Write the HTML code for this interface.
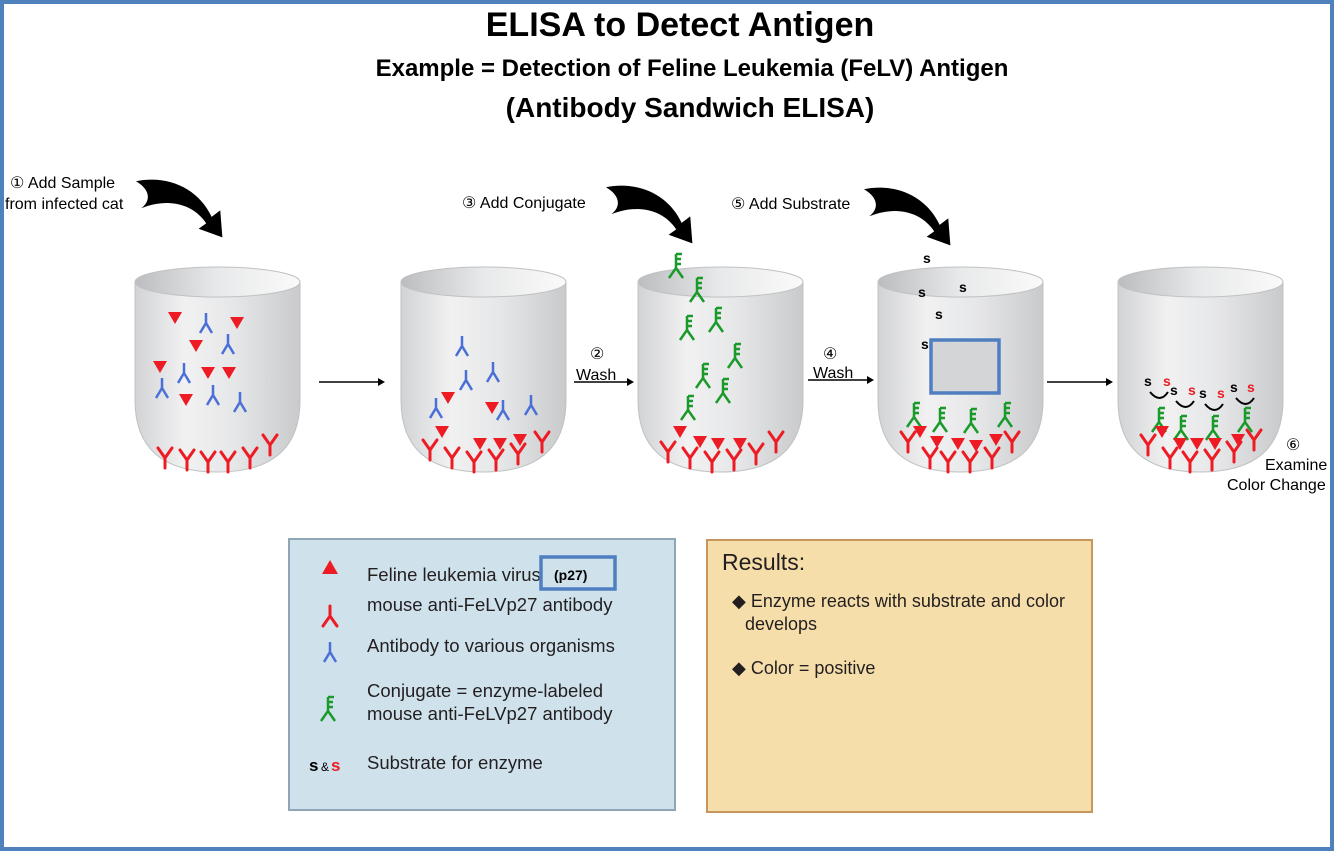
<!DOCTYPE html>
<html><head><meta charset="utf-8"><style>
html,body{margin:0;padding:0;background:#fff}
svg{display:block}
text{font-family:"Liberation Sans",sans-serif}
</style></head><body>
<svg width="1334" height="851" viewBox="0 0 1334 851" xmlns="http://www.w3.org/2000/svg">
<defs>
<linearGradient id="cg" x1="0" x2="1" y1="0" y2="0">
<stop offset="0" stop-color="#d2d3d5"/><stop offset="0.3" stop-color="#f1f1f2"/><stop offset="0.6" stop-color="#e6e7e8"/><stop offset="1" stop-color="#c9cacc"/></linearGradient>
<linearGradient id="ig" x1="0" x2="1" y1="0" y2="0">
<stop offset="0" stop-color="#bcbdc0"/><stop offset="0.5" stop-color="#e8e9ea"/><stop offset="1" stop-color="#fafafa"/></linearGradient>
<g id="cup">
<path d="M0,282 L0,400 Q0,472 82,472 Q165,472 165,400 L165,282 Z" fill="url(#cg)" stroke="#c0c1c3" stroke-width="1"/>
<ellipse cx="82.5" cy="282" rx="82.5" ry="15" fill="url(#ig)" stroke="#c0c1c3"/>
</g>
<g id="ry" stroke="#ed1c24" stroke-width="3" fill="none" stroke-linecap="round"><path d="M0,0 L0,-10 L-7,-20 M0,-10 L7,-20"/></g>
<g id="by" stroke="#4a6fd8" stroke-width="2.5" fill="none"><path d="M0,-20 L0,-10 L-6,0 M0,-10 L6,0"/></g>
<g id="gy" stroke="#1a9a2a" stroke-width="2.5" fill="none"><path d="M0,-24 L0,-10 L-7,0 M0,-10 L7,0 M0,-24 L6,-24 M0,-19 L5,-19 M0,-14 L5,-14"/></g>
<polygon id="tri" points="-7,-6 7,-6 0,6" fill="#ed1c24"/>
<path id="arr" d="M0,3 C30,-3 58,10 70,36 L78,30 L80,55 L58,47 L65,42 C53,24 30,18 5,28 C15,20 12,10 0,3 Z" fill="#000"/>
</defs>
<rect x="2" y="2" width="1330" height="847" fill="#fff" stroke="#4f81bd" stroke-width="4"/>
<text x="680" y="36" text-anchor="middle" font-size="34" font-weight="bold">ELISA to Detect Antigen</text>
<text x="692" y="76" text-anchor="middle" font-size="24" font-weight="bold">Example = Detection of Feline Leukemia (FeLV) Antigen</text>
<text x="690" y="117" text-anchor="middle" font-size="28" font-weight="bold">(Antibody Sandwich ELISA)</text>

<g font-size="16">
<text x="10" y="188">① Add Sample</text><text x="5" y="209">from infected cat</text>
<text x="462" y="208">③ Add Conjugate</text>
<text x="731" y="209">⑤ Add Substrate</text>
<text x="1286" y="450">⑥</text><text x="1265" y="470">Examine</text><text x="1227" y="490">Color Change</text>
<text x="590" y="359">②</text><text x="576" y="380">Wash</text>
<text x="823" y="359">④</text><text x="813" y="378">Wash</text>
</g>
<use href="#arr" transform="translate(136,178) scale(1.08)"/>
<use href="#arr" transform="translate(606,184) scale(1.08)"/>
<use href="#arr" transform="translate(864,186) scale(1.08)"/>
<g stroke="#000" stroke-width="1.5">
<line x1="319" y1="382" x2="380" y2="382"/><line x1="574" y1="382" x2="630" y2="382"/><line x1="808" y1="380" x2="868" y2="380"/><line x1="1047" y1="382" x2="1108" y2="382"/>
</g>
<g fill="#000"><polygon points="385,382 378,378 378,386"/><polygon points="634,382 627,378 627,386"/><polygon points="874,380 867,376 867,384"/><polygon points="1113,382 1106,378 1106,386"/></g>

<use href="#cup" x="135"/><use href="#cup" x="401"/><use href="#cup" x="638"/><use href="#cup" x="878"/><use href="#cup" x="1118"/>

<g>
<use href="#tri" x="175" y="318"/><use href="#tri" x="237" y="323"/><use href="#tri" x="196" y="346"/><use href="#tri" x="160" y="367"/><use href="#tri" x="208" y="373"/><use href="#tri" x="229" y="373"/><use href="#tri" x="186" y="400"/>
<use href="#by" x="206" y="333"/><use href="#by" x="228" y="354"/><use href="#by" x="184" y="383"/><use href="#by" x="162" y="398"/><use href="#by" x="213" y="405"/><use href="#by" x="240" y="412"/>
<use href="#ry" x="165" y="468"/><use href="#ry" x="187" y="470"/><use href="#ry" x="208" y="472"/><use href="#ry" x="228" y="472"/><use href="#ry" x="250" y="468"/><use href="#ry" x="270" y="455"/>
</g>
<g>
<use href="#by" x="462" y="356"/><use href="#by" x="466" y="390"/><use href="#by" x="493" y="382"/><use href="#by" x="436" y="418"/><use href="#by" x="503" y="420"/><use href="#by" x="531" y="415"/>
<use href="#tri" x="448" y="398"/><use href="#tri" x="492" y="408"/><use href="#tri" x="442" y="432"/>
<use href="#tri" x="480" y="444"/><use href="#tri" x="500" y="444"/><use href="#tri" x="520" y="440"/>
<use href="#ry" x="430" y="460"/><use href="#ry" x="452" y="468"/><use href="#ry" x="474" y="472"/><use href="#ry" x="496" y="470"/><use href="#ry" x="518" y="464"/><use href="#ry" x="542" y="452"/>
</g>
<g>
<use href="#gy" x="676" y="278"/><use href="#gy" x="697" y="302"/><use href="#gy" x="687" y="340"/><use href="#gy" x="716" y="332"/><use href="#gy" x="735" y="368"/><use href="#gy" x="703" y="388"/><use href="#gy" x="723" y="403"/><use href="#gy" x="688" y="420"/>
<use href="#tri" x="680" y="432"/><use href="#tri" x="718" y="444"/><use href="#tri" x="740" y="444"/><use href="#tri" x="700" y="442"/>
<use href="#ry" x="668" y="462"/><use href="#ry" x="690" y="468"/><use href="#ry" x="712" y="472"/><use href="#ry" x="734" y="470"/><use href="#ry" x="756" y="464"/><use href="#ry" x="776" y="452"/>
</g>
<g font-size="14" font-weight="bold">
<text x="923" y="263">s</text><text x="918" y="297">s</text><text x="959" y="292">s</text><text x="935" y="319">s</text><text x="921" y="349">s</text>
</g>
<rect x="931" y="340" width="68" height="53" fill="#d4d5d7" stroke="#4f7fc0" stroke-width="3.5"/>
<g>
<use href="#gy" x="914" y="427"/><use href="#gy" x="940" y="432"/><use href="#gy" x="971" y="433"/><use href="#gy" x="1005" y="427"/>
<use href="#tri" x="920" y="432"/><use href="#tri" x="937" y="442"/><use href="#tri" x="958" y="444"/><use href="#tri" x="976" y="446"/><use href="#tri" x="996" y="440"/>
<use href="#ry" x="908" y="452"/><use href="#ry" x="930" y="468"/><use href="#ry" x="948" y="472"/><use href="#ry" x="970" y="472"/><use href="#ry" x="992" y="468"/><use href="#ry" x="1012" y="452"/>
</g>
<g font-size="14" font-weight="bold">
<text x="1144" y="386">s</text><text x="1163" y="386" fill="#ed1c24">s</text>
<text x="1170" y="395">s</text><text x="1188" y="395" fill="#ed1c24">s</text>
<text x="1199" y="398">s</text><text x="1217" y="398" fill="#ed1c24">s</text>
<text x="1230" y="392">s</text><text x="1247" y="392" fill="#ed1c24">s</text>
</g>
<g stroke="#000" stroke-width="2" fill="none">
<path d="M1150,392 Q1160,404 1168,392"/><path d="M1176,401 Q1186,413 1194,401"/><path d="M1205,404 Q1215,416 1223,404"/><path d="M1236,398 Q1246,410 1254,398"/>
</g>
<g>
<use href="#gy" x="1159" y="432"/><use href="#gy" x="1181" y="440"/><use href="#gy" x="1213" y="440"/><use href="#gy" x="1245" y="432"/>
<use href="#tri" x="1162" y="432"/><use href="#tri" x="1180" y="444"/><use href="#tri" x="1197" y="444"/><use href="#tri" x="1215" y="444"/><use href="#tri" x="1238" y="440"/>
<use href="#ry" x="1148" y="455"/><use href="#ry" x="1170" y="468"/><use href="#ry" x="1190" y="472"/><use href="#ry" x="1212" y="470"/><use href="#ry" x="1234" y="462"/><use href="#ry" x="1254" y="450"/>
</g>

<rect x="289" y="539" width="386" height="271" fill="#cfe2ec" stroke="#8fa6b6" stroke-width="2"/>
<polygon points="330,560 338,574 322,574" fill="#ed1c24"/>
<use href="#ry" x="330" y="616" transform="translate(660,1222) scale(-1,-1)"/>
<use href="#by" x="330" y="662"/>
<use href="#gy" x="328" y="721"/>
<g font-size="18.5" fill="#231f20">
<text x="367" y="581">Feline leukemia virus</text>
<text x="367" y="611">mouse anti-FeLVp27 antibody</text>
<text x="367" y="652">Antibody to various organisms</text>
<text x="367" y="697">Conjugate = enzyme-labeled</text>
<text x="367" y="720">mouse anti-FeLVp27 antibody</text>
<text x="367" y="769">Substrate for enzyme</text>
</g>
<text x="309" y="771" font-size="17" font-weight="bold">s</text><text x="321" y="771" font-size="12">&amp;</text><text x="331" y="771" font-size="17" font-weight="bold" fill="#ed1c24">s</text>
<rect x="541" y="557" width="74" height="32" fill="none" stroke="#4f7fc0" stroke-width="3.5"/>
<text x="554" y="580" font-size="14" font-weight="bold">(p27)</text>

<rect x="707" y="540" width="385" height="272" fill="#f6deaa" stroke="#c8955c" stroke-width="2"/>
<g fill="#231f20">
<text x="722" y="570" font-size="23">Results:</text>
<text x="732" y="607" font-size="18">◆ Enzyme reacts with substrate and color</text>
<text x="745" y="630" font-size="18">develops</text>
<text x="732" y="674" font-size="18">◆ Color = positive</text>
</g>
</svg>
</body></html>
